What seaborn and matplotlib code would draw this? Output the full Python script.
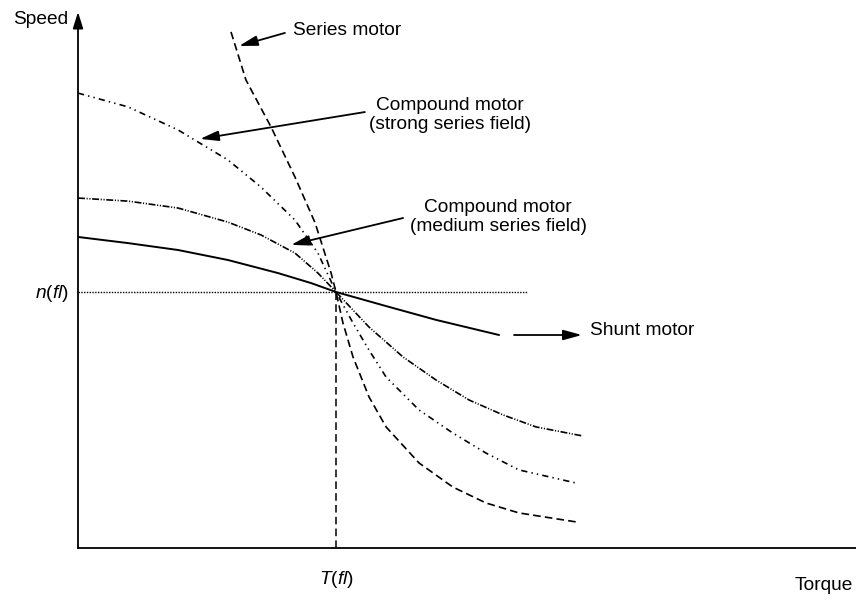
import numpy as np
import pandas as pd
import matplotlib
matplotlib.use('Agg')
import matplotlib.pyplot as plt
import seaborn as sns

# Speed-torque curves (torque and speed in per-unit of full load)
shunt_torque = [0.0, 0.194, 0.388, 0.581, 0.775, 0.903, 1.0, 1.194, 1.388, 1.632]
shunt_speed = [1.215, 1.191, 1.164, 1.125, 1.074, 1.035, 1.0, 0.945, 0.891, 0.832]

medium_torque = [0.0, 0.194, 0.388, 0.581, 0.709, 0.841, 0.930, 1.0,
                 1.128, 1.260, 1.388, 1.516, 1.647, 1.775, 1.957]
medium_speed = [1.367, 1.355, 1.328, 1.273, 1.223, 1.152, 1.074, 1.0,
                0.863, 0.746, 0.656, 0.578, 0.520, 0.473, 0.4375]

strong_torque = [0.0, 0.194, 0.388, 0.465, 0.581, 0.709, 0.841, 0.930, 1.0,
                 1.066, 1.128, 1.194, 1.322, 1.453, 1.581, 1.709, 1.930]
strong_speed = [1.777, 1.723, 1.633, 1.586, 1.516, 1.410, 1.281, 1.152, 1.0,
                0.879, 0.773, 0.668, 0.539, 0.449, 0.371, 0.305, 0.254]

series_torque = [0.593, 0.651, 0.748, 0.841, 0.919, 0.981, 1.0,
                 1.027, 1.066, 1.128, 1.194, 1.322, 1.453, 1.581, 1.709, 1.930]
series_speed = [2.016, 1.828, 1.645, 1.449, 1.270, 1.074, 1.0,
                0.879, 0.746, 0.590, 0.473, 0.332, 0.238, 0.176, 0.137, 0.102]

full_load_torque = 1.0
full_load_speed = 1.0
speed_line_end = 1.74

sns.set_style('white')
plt.rcParams['font.family'] = ['Liberation Sans', 'DejaVu Sans']
plt.rcParams['text.color'] = 'black'
plt.rcParams['mathtext.fontset'] = 'custom'
plt.rcParams['mathtext.rm'] = 'Liberation Sans'
plt.rcParams['mathtext.it'] = 'Liberation Sans:italic'
plt.rcParams['lines.scale_dashes'] = False

fig = plt.figure(figsize=(8.56, 6.06), dpi=100)
ax = fig.add_axes([78 / 856, 58 / 606, 778 / 856, 536 / 606])
ax.set_xlim(0, 778 / 258)
ax.set_ylim(0, 536 / 256)

# reference lines at full load
ax.plot([0, speed_line_end], [full_load_speed, full_load_speed], color='black', lw=1.0,
        linestyle=(0, (1, 1)))
ax.plot([full_load_torque, full_load_torque], [0, full_load_speed], color='black', lw=1.1,
        linestyle=(0, (5.5, 3)))

# curves
sns.lineplot(x=shunt_torque, y=shunt_speed, ax=ax, color='black', lw=1.4, sort=False)
sns.lineplot(x=medium_torque, y=medium_speed, ax=ax, color='black', lw=1.2, sort=False,
             linestyle=(0, (5, 1.2, 0.8, 1.2, 0.8, 1.2)))
sns.lineplot(x=strong_torque, y=strong_speed, ax=ax, color='black', lw=1.2, sort=False,
             linestyle=(0, (4.5, 3, 1, 3, 1, 3)))
sns.lineplot(x=series_torque, y=series_speed, ax=ax, color='black', lw=1.2, sort=False,
             linestyle=(0, (5.5, 3)))

# axes
sns.despine(ax=ax)
ax.spines['left'].set_visible(False)
ax.spines['bottom'].set_linewidth(1.3)
ax.spines['bottom'].set_color('black')
ax.set_xticks([])
ax.set_yticks([])
ax.annotate('', xy=(0, 1), xytext=(0, 0), xycoords='axes fraction',
            arrowprops=dict(arrowstyle='-|>,head_length=0.7,head_width=0.22', lw=1.3,
                            color='black', mutation_scale=14, shrinkA=0, shrinkB=0))

fs = 13.8
ax.text(-0.252, 2.0625, 'Speed', fontsize=fs, ha='left', va='center', clip_on=False)
ax.text(3.004, -0.145, 'Torque', fontsize=fs, ha='right', va='center', clip_on=False)
ax.text(-0.035, full_load_speed - 0.005, r'$\mathit{n}$($\mathit{fl}$)', fontsize=fs,
        ha='right', va='center', clip_on=False)
ax.text(full_load_torque, -0.125, r'$\mathit{T}$($\mathit{fl}$)', fontsize=fs, ha='center',
        va='center', clip_on=False)

arrow = dict(arrowstyle='-|>,head_length=0.8,head_width=0.22', lw=1.3, color='black',
             mutation_scale=14, shrinkA=0, shrinkB=0)
ax.annotate('', xy=(0.624, 1.961), xytext=(0.802, 2.012), arrowprops=arrow)
ax.text(0.833, 2.023, 'Series motor', fontsize=fs, ha='left', va='center')

ax.annotate('', xy=(0.473, 1.598), xytext=(1.112, 1.703), arrowprops=arrow)
ax.text(1.442, 1.691, 'Compound motor\n(strong series field)', fontsize=fs, ha='center',
        va='center', linespacing=1.2)

ax.annotate('', xy=(0.826, 1.184), xytext=(1.260, 1.289), arrowprops=arrow)
ax.text(1.628, 1.293, 'Compound motor\n(medium series field)', fontsize=fs, ha='center',
        va='center', linespacing=1.2)

ax.annotate('', xy=(1.953, 0.832), xytext=(1.690, 0.832), arrowprops=arrow)
ax.text(1.984, 0.848, 'Shunt motor', fontsize=fs, ha='left', va='center')

fig.savefig('out.png', dpi=100)
